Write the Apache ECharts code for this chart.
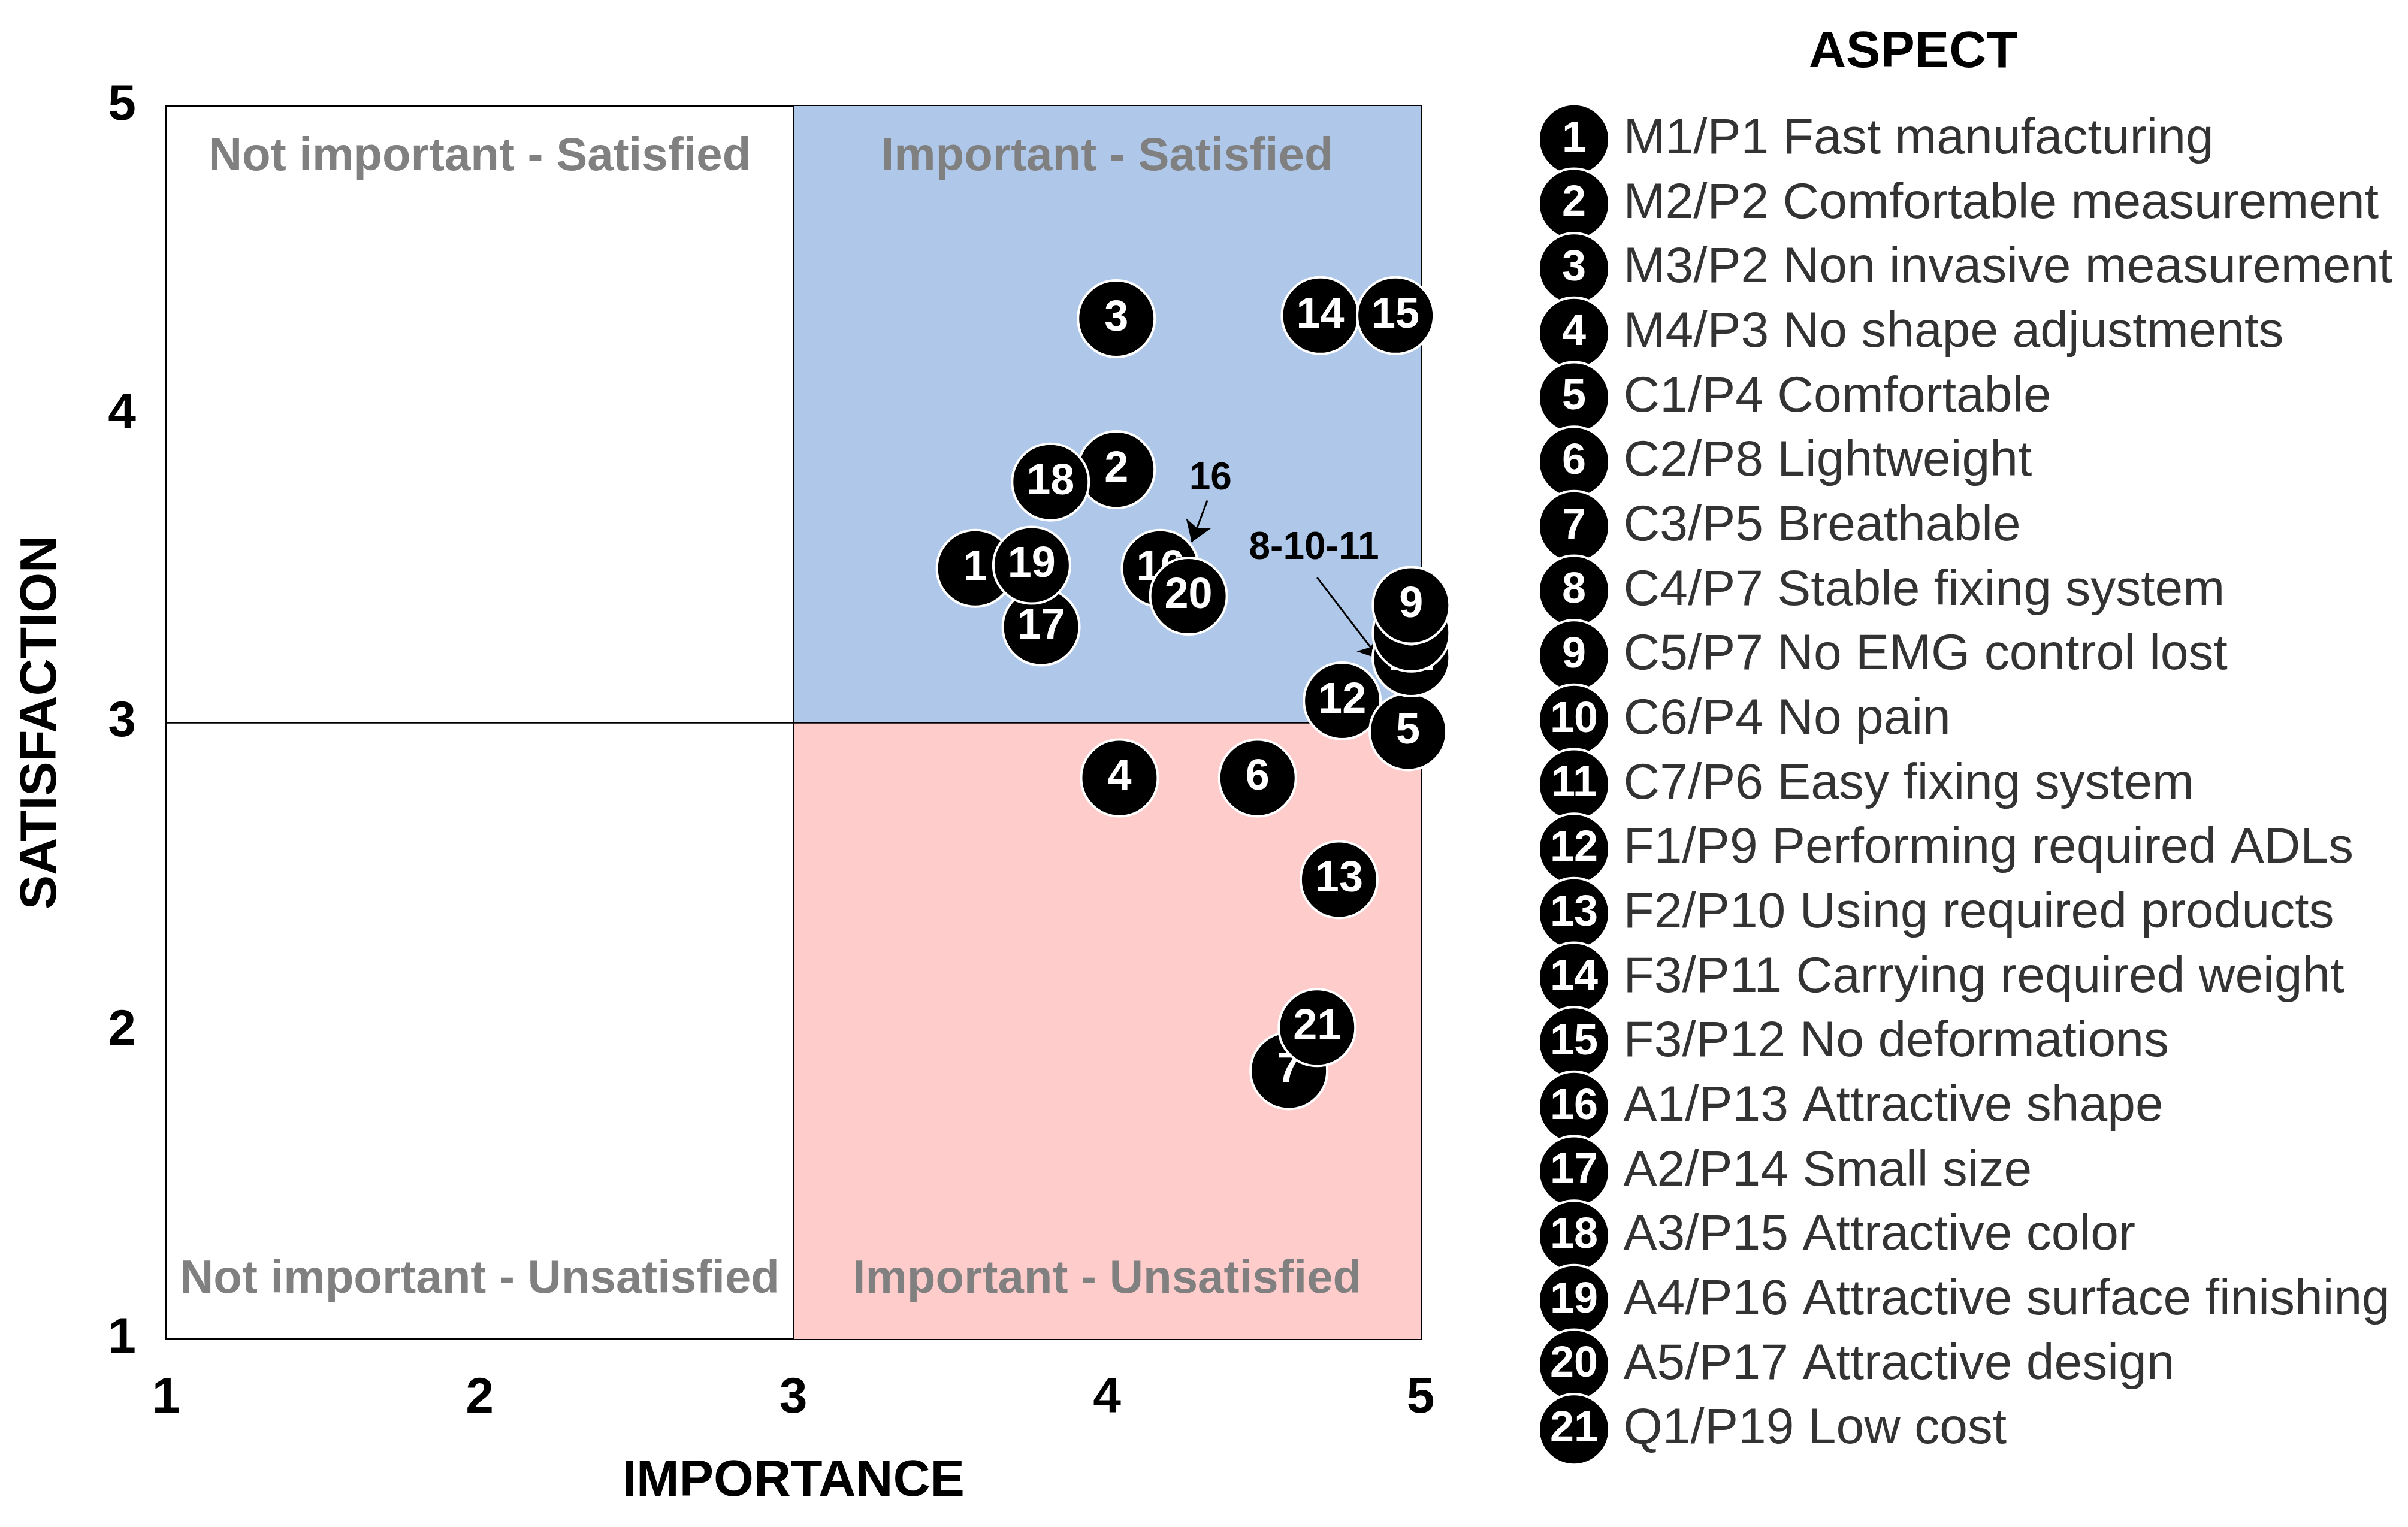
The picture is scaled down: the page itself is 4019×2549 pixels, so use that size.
<!DOCTYPE html>
<html>
<head>
<meta charset="utf-8">
<script src="https://cdn.jsdelivr.net/npm/echarts@6/dist/echarts.min.js"></script>
<style>
  html, body { margin: 0; padding: 0; background: #fff; }
  #main { width: 4019px; height: 2549px; }
</style>
</head>
<body>
<div id="main"></div>
<script>
// aspect numbers and their descriptions (legend)
var aspectIds = ['1', '2', '3', '4', '5', '6', '7', '8', '9', '10', '11',
  '12', '13', '14', '15', '16', '17', '18', '19', '20', '21'];
var aspectNames = [
  'M1/P1 Fast manufacturing',
  'M2/P2 Comfortable measurement',
  'M3/P2 Non invasive measurement',
  'M4/P3 No shape adjustments',
  'C1/P4 Comfortable',
  'C2/P8 Lightweight',
  'C3/P5 Breathable',
  'C4/P7 Stable fixing system',
  'C5/P7 No EMG control lost',
  'C6/P4 No pain',
  'C7/P6 Easy fixing system',
  'F1/P9 Performing required ADLs',
  'F2/P10 Using required products',
  'F3/P11 Carrying required weight',
  'F3/P12 No deformations',
  'A1/P13 Attractive shape',
  'A2/P14 Small size',
  'A3/P15 Attractive color',
  'A4/P16 Attractive surface finishing',
  'A5/P17 Attractive design',
  'Q1/P19 Low cost'
];
// values
var importance = [3.58, 4.03, 4.03, 4.04, 4.96, 4.48, 4.58, 4.97, 4.97, 4.97, 4.97,
  4.75, 4.74, 4.68, 4.92, 4.17, 3.79, 3.82, 3.76, 4.26, 4.67];
var satisfaction = [3.50, 3.82, 4.31, 2.82, 2.97, 2.82, 1.87, 3.29, 3.38, 3.21, 3.21,
  3.07, 2.49, 4.32, 4.32, 3.50, 3.31, 3.78, 3.51, 3.41, 2.01];
// which bubble sits on top of which (first = bottom)
var drawOrder = ['3', '4', '6', '13', '1', '17', '19', '2', '18', '16', '20',
  '14', '15', '7', '21', '12', '5', '10', '11', '8', '9'];

var axisTicks = [1, 2, 3, 4, 5];
var quadrantNames = ['Not important - Satisfied', 'Important - Satisfied',
  'Not important - Unsatisfied', 'Important - Unsatisfied'];

var font = "'Liberation Sans', Arial, sans-serif";
var myChart = echarts.init(document.getElementById('main'));

var quadLabel = {
  show: true, color: '#808080', fontSize: 78, fontWeight: 'bold', fontFamily: font
};

var series = [
  // quadrants and middle lines
  {
    type: 'scatter', data: [], z: 1, silent: true,
    markArea: {
      silent: true,
      data: [
        [{ name: quadrantNames[0], xAxis: 1, yAxis: 3, itemStyle: { color: 'rgba(0,0,0,0)' },
           label: Object.assign({ position: 'insideTop', distance: 46 }, quadLabel) },
         { xAxis: 3, yAxis: 5 }],
        [{ name: quadrantNames[1], xAxis: 3, yAxis: 3, itemStyle: { color: '#afc8ea' },
           label: Object.assign({ position: 'insideTop', distance: 46 }, quadLabel) },
         { xAxis: 5, yAxis: 5 }],
        [{ name: quadrantNames[2], xAxis: 1, yAxis: 1, itemStyle: { color: 'rgba(0,0,0,0)' },
           label: Object.assign({ position: 'insideBottom', distance: 60 }, quadLabel) },
         { xAxis: 3, yAxis: 3 }],
        [{ name: quadrantNames[3], xAxis: 3, yAxis: 1, itemStyle: { color: '#ffcccc' },
           label: Object.assign({ position: 'insideBottom', distance: 60 }, quadLabel) },
         { xAxis: 5, yAxis: 3 }]
      ]
    },
    markLine: {
      silent: true, symbol: 'none', label: { show: false },
      lineStyle: { color: '#000', width: 2.5, type: 'solid' },
      data: [{ xAxis: 3 }, { yAxis: 3 }]
    }
  }
];

// one series per bubble so that a bubble on top also hides the number below it
drawOrder.forEach(function (id, k) {
  var i = aspectIds.indexOf(id);
  series.push({
    type: 'scatter', z: 10 + k, clip: false,
    data: [{ name: id, value: [importance[i], satisfaction[i]] }],
    symbol: 'circle', symbolSize: 128,
    itemStyle: { color: '#000', borderColor: '#fff', borderWidth: 4, opacity: 1 },
    label: {
      show: true, position: 'inside', formatter: '{b}',
      color: '#fff', fontSize: 72, fontWeight: 'bold', fontFamily: font
    }
  });
});

// call-outs
series.push({
  type: 'scatter', data: [], z: 100, silent: true,
  markLine: {
    silent: true, symbol: ['none', 'arrow'], symbolSize: 34,
    label: { show: false },
    lineStyle: { color: '#000', width: 3, type: 'solid' },
    data: [
      [{ coord: [4.32, 3.72] }, { coord: [4.27, 3.585] }],
      [{ coord: [4.67, 3.47] }, { coord: [4.87, 3.205] }]
    ]
  },
  markPoint: {
    silent: true, symbol: 'circle', symbolSize: 0,
    label: {
      show: true, position: 'inside', formatter: '{b}',
      color: '#000', fontSize: 64, fontWeight: 'bold', fontFamily: font
    },
    data: [
      { name: '16', coord: [4.33, 3.79] },
      { name: '8-10-11', coord: [4.66, 3.565] }
    ]
  }
});

// legend circles
series.push({
  type: 'scatter', xAxisIndex: 1, yAxisIndex: 1, clip: false, silent: true,
  data: aspectIds.map(function (id) { return [0, id]; }),
  symbol: 'circle', symbolSize: 118,
  itemStyle: { color: '#000', borderColor: '#fff', borderWidth: 4, opacity: 1 },
  label: {
    show: true, position: 'inside',
    formatter: function (p) { return p.value[1]; },
    color: '#fff', fontSize: 72, fontWeight: 'bold', fontFamily: font
  }
});

// legend texts
series.push({
  type: 'scatter', xAxisIndex: 1, yAxisIndex: 1, clip: false, silent: true,
  data: aspectIds.map(function (id) { return [0, id]; }),
  symbol: 'circle', symbolSize: 1,
  itemStyle: { color: 'rgba(0,0,0,0)' },
  label: {
    show: true, position: 'right', distance: 82,
    formatter: function (p) { return aspectNames[p.dataIndex]; },
    color: '#000', fontSize: 84, fontFamily: font
  }
});

var option = {
  animation: false,
  backgroundColor: '#fff',
  title: {
    text: 'ASPECT',
    left: 3014,
    top: 40,
    textStyle: { fontSize: 86, fontWeight: 'bold', color: '#000', fontFamily: font }
  },
  grid: [
    { left: 277, top: 177, width: 2094, height: 2058, show: true,
      borderColor: '#000', borderWidth: 4, backgroundColor: 'transparent' },
    { left: 2627, top: 179, width: 1300, height: 2261 }
  ],
  xAxis: [
    {
      type: 'value', min: axisTicks[0], max: axisTicks[axisTicks.length - 1], interval: 1,
      name: 'IMPORTANCE', nameLocation: 'middle', nameGap: 195,
      nameTextStyle: { fontSize: 86, fontWeight: 'bold', color: '#000', fontFamily: font },
      axisLine: { show: false }, axisTick: { show: false }, splitLine: { show: false },
      axisLabel: { fontSize: 84, fontWeight: 'bold', color: '#000', margin: 58, fontFamily: font }
    },
    { gridIndex: 1, type: 'value', min: 0, max: 10, show: false }
  ],
  yAxis: [
    {
      type: 'value', min: axisTicks[0], max: axisTicks[axisTicks.length - 1], interval: 1,
      name: 'SATISFACTION', nameLocation: 'middle', nameGap: 165,
      nameTextStyle: { fontSize: 86, fontWeight: 'bold', color: '#000', fontFamily: font },
      axisLine: { show: false }, axisTick: { show: false }, splitLine: { show: false },
      axisLabel: { fontSize: 84, fontWeight: 'bold', color: '#000', margin: 50, fontFamily: font }
    },
    { gridIndex: 1, type: 'category', data: aspectIds, inverse: true, show: false }
  ],
  series: series
};
myChart.setOption(option);
</script>
</body>
</html>
